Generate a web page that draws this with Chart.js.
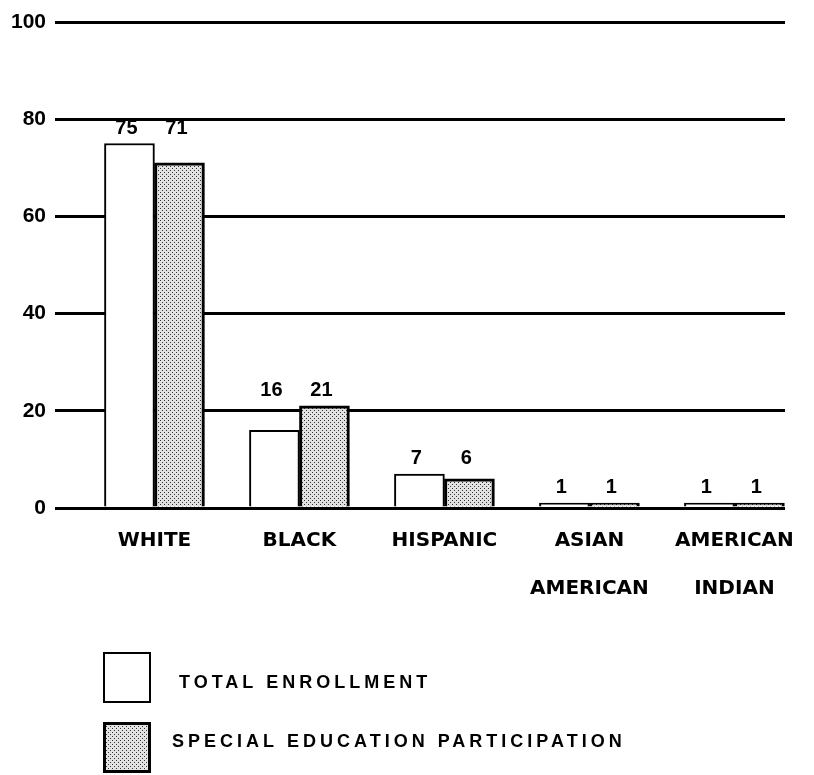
<!DOCTYPE html>
<html>
<head>
<meta charset="utf-8">
<script src="https://cdn.jsdelivr.net/npm/chart.js@4"></script>
<style>
  html, body { margin: 0; padding: 0; background: #fff; }
</style>
</head>
<body>
<canvas id="raceChart" width="814" height="775"></canvas>
<script>
const categories = ['WHITE', 'BLACK', 'HISPANIC', ['ASIAN', 'AMERICAN'], ['AMERICAN', 'INDIAN']]
const totalEnrollment = [75, 16, 7, 1, 1]
const specialEducation = [71, 21, 6, 1, 1]
const yTicks = [0, 20, 40, 60, 80, 100]
const seriesNames = ['TOTAL ENROLLMENT', 'SPECIAL EDUCATION PARTICIPATION']

Chart.defaults.color = '#000'



// grey halftone fill, like the old photocopied screen
const makeStipple = () => {
    const tile = document.createElement('canvas')
    tile.width = 4
    tile.height = 4
    const c = tile.getContext('2d')
    c.fillStyle = '#e2e2e2'
    c.fillRect(0, 0, 4, 4)
    c.fillStyle = '#333'
    c.fillRect(0, 0, 1, 1)
    c.fillRect(2, 2, 1, 1)
    return c.createPattern(tile, 'repeat')
}



// numbers sit above the taller bar of each pair
const valueLabels = {
    id: 'valueLabels',
    afterDatasetsDraw(chart) {
        const { ctx } = chart
        const metas = chart.data.datasets.map((ds, i) => chart.getDatasetMeta(i))
        ctx.save()
        ctx.font = 'bold 20px "Liberation Sans"'
        ctx.fillStyle = '#000'
        ctx.textAlign = 'center'
        ctx.textBaseline = 'alphabetic'
        categories.forEach((cat, i) => {
            const top = Math.min(...metas.map(m => m.data[i].y))
            metas.forEach((m, d) => {
                ctx.fillText(chart.data.datasets[d].data[i].y, m.data[i].x - 3, top - 10)
            })
        })
        ctx.restore()
    }
}



// stacked legend with big boxes under the chart
const boxLegend = {
    id: 'boxLegend',
    afterDraw(chart) {
        const { ctx, chartArea } = chart
        const x = chartArea.left + 48
        ctx.save()
        chart.data.datasets.forEach((ds, i) => {
            const y = chart.height - 123 + i * 70
            ctx.fillStyle = ds.backgroundColor
            ctx.fillRect(x, y, 48, 51)
            ctx.lineWidth = ds.borderWidth
            ctx.strokeStyle = '#000'
            ctx.strokeRect(x + ds.borderWidth / 2, y + ds.borderWidth / 2, 48 - ds.borderWidth, 51 - ds.borderWidth)
            ctx.fillStyle = '#000'
            ctx.font = 'bold 18px "Liberation Sans"'
            ctx.letterSpacing = '4px'
            ctx.textBaseline = 'middle'
            ctx.fillText(ds.label, x + 76 - i * 7, chart.height - 92 + i * 59)
        })
        ctx.restore()
    }
}



const renderChart = () => {

    const data = {
        datasets: [{
            label: seriesNames[0],
            data: totalEnrollment.map((v, i) => ({ x: i, y: v })),
            backgroundColor: '#fff',
            borderColor: '#000',
            borderWidth: 2
        }, {
            label: seriesNames[1],
            data: specialEducation.map((v, i) => ({ x: i, y: v })),
            backgroundColor: makeStipple(),
            borderColor: '#000',
            borderWidth: 3
        }]
    }

    const options = {
        responsive: false,
        animation: false,
        devicePixelRatio: 1,
        barThickness: 50,
        layout: {
            padding: { top: 22, right: 29, bottom: 161, left: 10 }
        },
        plugins: {
            legend: { display: false },
            tooltip: { enabled: false }
        },
        scales: {
            x: {
                type: 'linear',
                offset: false,
                min: -0.686,
                max: 4.349,
                grid: { display: false },
                border: { display: false },
                afterBuildTicks: scale => { scale.ticks = categories.map((c, i) => ({ value: i })) },
                ticks: {
                    padding: 1,
                    maxRotation: 0,
                    autoSkip: false,
                    font: { family: '"DejaVu Sans"', size: 20, weight: 'bold', lineHeight: 2.4 },
                    callback: value => categories[value]
                }
            },
            y: {
                min: 0,
                max: 100,
                afterFit: scale => { scale.width = 45 },
                afterBuildTicks: scale => { scale.ticks = yTicks.map(v => ({ value: v })) },
                grid: { color: '#000', lineWidth: 3, drawTicks: false },
                border: { display: false },
                ticks: {
                    padding: 9,
                    font: { family: '"Liberation Sans"', size: 21, weight: 'bold' }
                }
            }
        }
    }

    new Chart('raceChart', { type: 'bar', data, options, plugins: [valueLabels, boxLegend] })
}



renderChart()
</script>
</body>
</html>
